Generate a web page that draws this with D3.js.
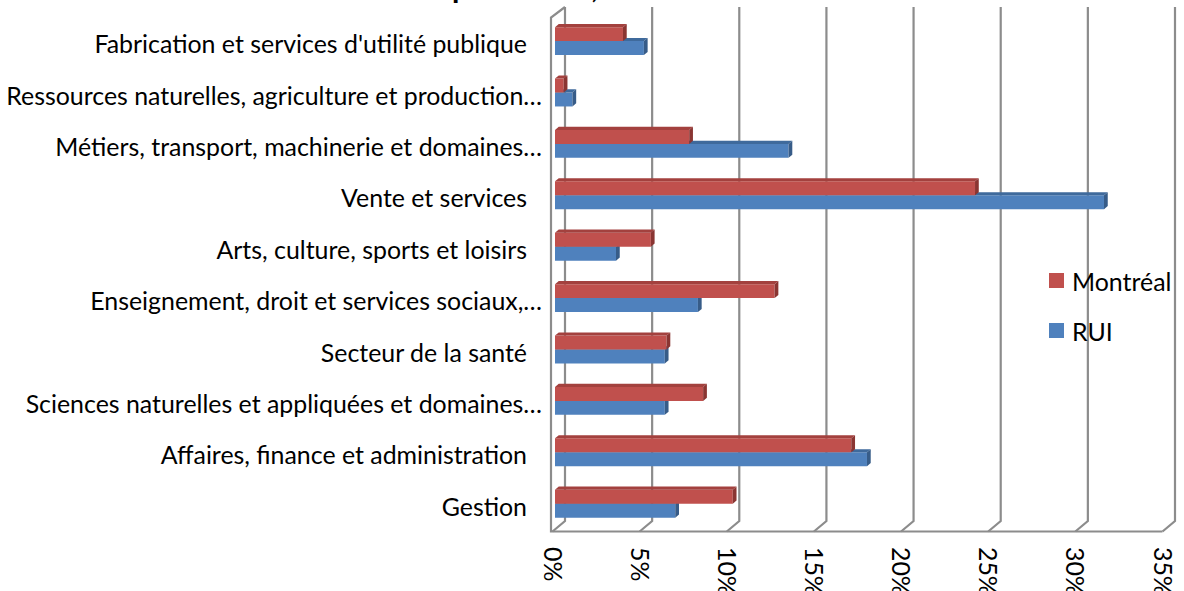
<!DOCTYPE html>
<html>
<head>
<meta charset="utf-8">
<script src="https://cdn.jsdelivr.net/npm/d3@7"></script>
<style>
  html, body { margin: 0; padding: 0; background: #fff; }
  svg { display: block; font-family: Lato, "Noto Sans", sans-serif; }
</style>
</head>
<body>
<svg id="chart" width="1184" height="591"></svg>
<script>
// categories, top to bottom as shown
const categories = [
  "Fabrication et services d'utilité publique",
  "Ressources naturelles, agriculture et production…",
  "Métiers, transport, machinerie et domaines…",
  "Vente et services",
  "Arts, culture, sports et loisirs",
  "Enseignement, droit et services sociaux,…",
  "Secteur de la santé",
  "Sciences naturelles et appliquées et domaines…",
  "Affaires, finance et administration",
  "Gestion"
];
const seriesNames = ["Montréal", "RUI"];
// share of workers, %
const montreal = [3.9, 0.5, 7.7, 24.1, 5.5, 12.6, 6.4, 8.5, 17.0, 10.2];
const rui = [5.1, 1.0, 13.4, 31.5, 3.5, 8.2, 6.3, 6.3, 17.9, 6.9];
const tickValues = [0, 5, 10, 15, 20, 25, 30, 35];
const titleText = "Travailleurs selon la profession, 2006";

const colors = {
  "Montréal": { front: "#c0504d", top: "#a3413e", side: "#8a3532" },
  "RUI": { front: "#4f81bd", top: "#3f6a9c", side: "#375c88" }
};

const svg = d3.select('#chart');

// back wall scales, the floor comes forward by (dx, dy)
const depth = { dx: -12.5, dy: 10.5 };
const x = d3.scaleLinear().domain([0, 35]).range([565, 1175]);
const y = d3.scaleBand().domain(categories).range([7, 521]);
const y1 = d3.scaleBand().domain(seriesNames).range([0, y.bandwidth()]).paddingOuter(0.84);
const P = (xb, yb, d) => [xb + d * depth.dx, yb + d * depth.dy];
const wallTop = y.range()[0], wallBottom = y.range()[1];

// title, mostly outside the picture
const title = svg.append('text')
  .attr('y', -2)
  .attr('font-weight', 'bold')
  .attr('font-size', 30)
  .attr('fill', '#000')
  .text(titleText);
const pIdx = titleText.indexOf('profession');
title.attr('x', 452 - title.node().getSubStringLength(0, pIdx));

// walls and gridlines
const grid = svg.append('g')
  .attr('fill', 'none')
  .attr('stroke', '#8c8c8c')
  .attr('stroke-width', 2.2);

grid.selectAll('path.tick')
  .data(tickValues)
  .enter()
  .append('path')
  .attr('class', 'tick')
  .attr('d', t => {
    const f = P(x(t), wallBottom, 1);
    return `M${x(t)},${wallTop}L${x(t)},${wallBottom}L${f[0]},${f[1]}`;
  });

const lt = P(x(0), wallTop, 1), lb = P(x(0), wallBottom, 1), rb = P(x(35), wallBottom, 1);
grid.append('path')
  .attr('d', `M${x(0)},${wallTop}L${lt[0] - 1.5},${lt[1]}L${lb[0] - 1.5},${lb[1]}L${rb[0]},${rb[1]}`);

// bars: lower series first so the upper one covers its top face
const rows = categories.map((c, i) => ({ c, vals: { "Montréal": montreal[i], "RUI": rui[i] } }));
const front = 0.8, back = 0.5;

rows.forEach(row => {
  ["RUI", "Montréal"].forEach(s => {
    const v = row.vals[s];
    const y0 = y(row.c) + y1(s);
    const h = y1.bandwidth();
    const A = P(x(0), y0, front), B = P(x(v), y0, front), C = P(x(v), y0 + h, front), D = P(x(0), y0 + h, front);
    const A2 = P(x(0), y0, back), B2 = P(x(v), y0, back), C2 = P(x(v), y0 + h, back);
    const g = svg.append('g');
    g.append('polygon')
      .attr('points', [A, B, C, D].join(' '))
      .attr('fill', colors[s].front);
    g.append('polygon')
      .attr('points', [A, B, B2, A2].join(' '))
      .attr('fill', colors[s].top);
    g.append('polygon')
      .attr('points', [B, B2, C2, C].join(' '))
      .attr('fill', colors[s].side);
  });
});

// category labels
svg.append('g')
  .selectAll('text')
  .data(categories)
  .enter()
  .append('text')
  .attr('x', d => d.endsWith('…') ? 542 : 527)
  .attr('y', d => P(0, y(d) + y.bandwidth() / 2, front)[1] + 2)
  .attr('text-anchor', 'end')
  .attr('dominant-baseline', 'central')
  .attr('font-size', 24.9)
  .attr('fill', '#000')
  .text(d => d);

// value axis labels, turned a quarter clockwise
svg.append('g')
  .selectAll('text')
  .data(tickValues)
  .enter()
  .append('text')
  .attr('transform', t => `translate(${P(x(t), wallBottom, 1)[0] + 1},547) rotate(90)`)
  .attr('dominant-baseline', 'central')
  .attr('font-size', 24.9)
  .attr('fill', '#000')
  .text(t => t + '%');

// legend
const legend = svg.append('g')
  .selectAll('g')
  .data(seriesNames)
  .enter()
  .append('g')
  .attr('transform', (d, i) => `translate(1049,${273 + i * 50})`);

legend.append('rect')
  .attr('width', 15)
  .attr('height', 15)
  .attr('fill', d => colors[d].front);

legend.append('text')
  .attr('x', 23)
  .attr('y', 8)
  .attr('dominant-baseline', 'central')
  .attr('font-size', 24.9)
  .attr('fill', '#000')
  .text(d => d);
</script>
</body>
</html>
